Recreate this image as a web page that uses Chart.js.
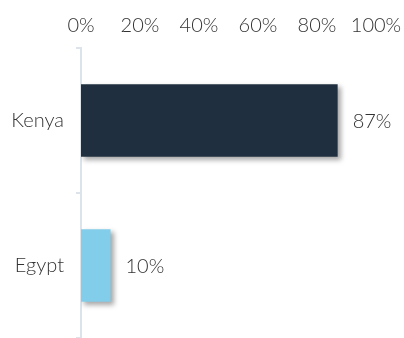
<!DOCTYPE html>
<html>
<head>
<meta charset="utf-8">
<script src="https://cdn.jsdelivr.net/npm/chart.js@4"></script>
<style>
  html, body { margin: 0; padding: 0; background: #fff; overflow: hidden; }
  canvas { display: block; }
</style>
</head>
<body>
<canvas id="myChart" width="404" height="338"></canvas>
<script>
const countries = ['Kenya', 'Egypt'];
const shares = [87, 10];
const barColors = ['#1f2f3f', '#82cdea'];
const tickValues = [0, 20, 40, 60, 80, 100];

const fontFamily = "Lato, 'Open Sans', sans-serif";

// drop shadow under the bars
const shadowPlugin = {
    id: 'barShadow',
    beforeDatasetDraw(chart) {
        const c = chart.ctx;
        c.save();
        c.shadowColor = 'rgba(0,0,0,0.35)';
        c.shadowBlur = 5;
        c.shadowOffsetX = 3;
        c.shadowOffsetY = 3;
    },
    afterDatasetDraw(chart) {
        chart.ctx.restore();
    }
};

// value labels after the bar end
const valueLabels = {
    id: 'valueLabels',
    afterDatasetsDraw(chart) {
        const c = chart.ctx;
        const meta = chart.getDatasetMeta(0);
        c.save();
        c.font = '300 20px ' + fontFamily;
        c.fillStyle = '#333';
        c.textBaseline = 'middle';
        c.textAlign = 'left';
        meta.data.forEach((bar, i) => {
            c.fillText(shares[i] + '%', bar.x + 15, bar.y + 1);
        });
        c.restore();
    }
};

const ctx = document.getElementById('myChart').getContext('2d');
const myChart = new Chart(ctx, {
    type: 'bar',
    data: {
        labels: countries,
        datasets: [{
            data: shares,
            backgroundColor: barColors,
            borderWidth: 0,
            barPercentage: 0.5,
            categoryPercentage: 1
        }]
    },
    options: {
        indexAxis: 'y',
        responsive: false,
        animation: false,
        layout: { padding: { top: 12, right: 28, left: 0, bottom: 0 } },
        plugins: {
            legend: { display: false },
            tooltip: { enabled: false }
        },
        scales: {
            x: {
                position: 'top',
                min: 0,
                max: 100,
                afterBuildTicks: axis => {
                    axis.ticks = tickValues.map(v => ({ value: v }));
                },
                afterFit: axis => {
                    axis.height = 36;
                    axis.paddingLeft = 0;
                    axis.paddingRight = 0;
                },
                border: { display: false },
                grid: { display: false },
                ticks: {
                    padding: 2,
                    maxRotation: 0,
                    autoSkip: false,
                    color: '#333',
                    font: { family: fontFamily, size: 20, weight: 300 },
                    callback: v => v + '%'
                }
            },
            y: {
                afterFit: axis => {
                    axis.width = 81;
                    axis.paddingTop = 0;
                    axis.paddingBottom = 0;
                },
                border: { display: true, color: '#dde3ea', width: 2 },
                grid: {
                    display: true,
                    drawOnChartArea: false,
                    color: '#dde3ea',
                    lineWidth: 2,
                    tickLength: 5,
                    offset: true
                },
                ticks: {
                    padding: 12,
                    color: '#333',
                    font: { family: fontFamily, size: 20, weight: 300 }
                }
            }
        }
    },
    plugins: [shadowPlugin, valueLabels]
});
</script>
</body>
</html>
